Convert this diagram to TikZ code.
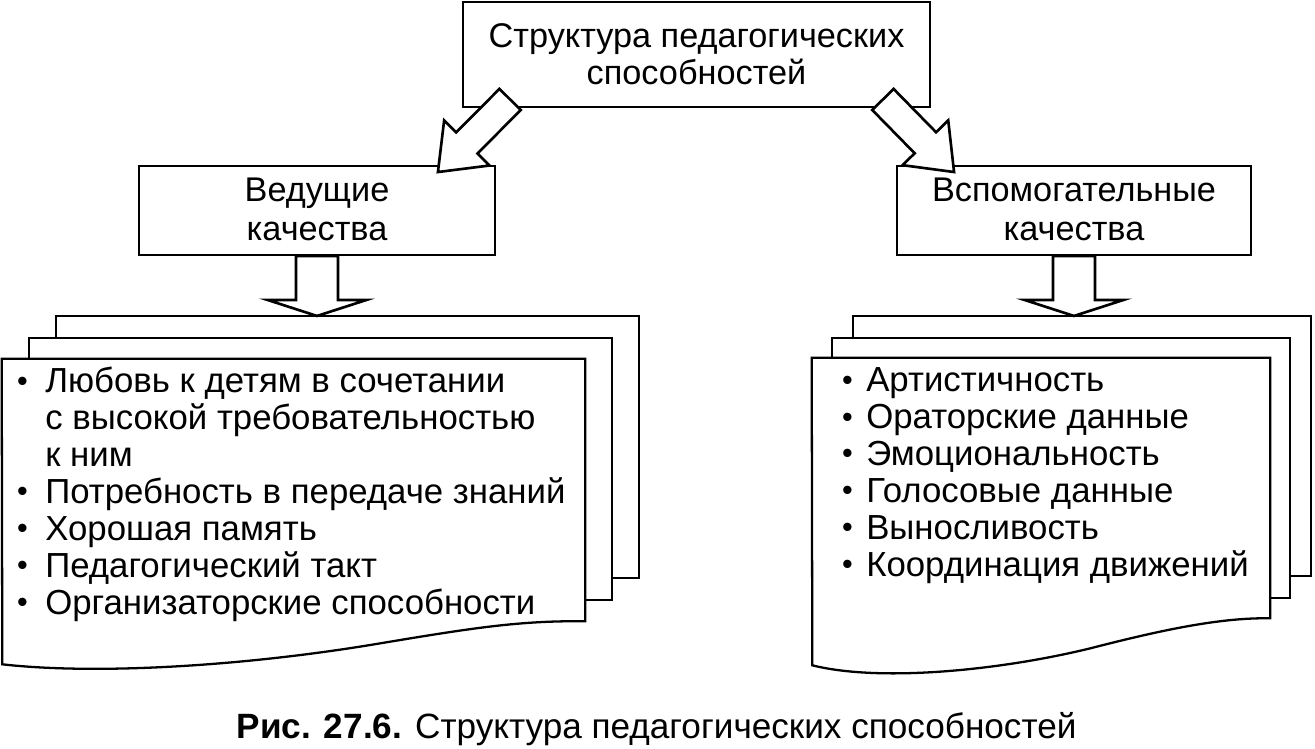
\documentclass[tikz,border=0pt]{standalone}
\usepackage{fontspec}
\setmainfont{Liberation Sans}
\usetikzlibrary{calc}
\usetikzlibrary{positioning}

\newcommand{\listdot}{\raisebox{0.05em}{\scalebox{0.88}{•}}}

\begin{document}
\begin{tikzpicture} [
        x = 0.02cm,
        y = -0.02cm,
        every node/.style = {
          align = center,
          font = \fontsize{19.5}{21}\selectfont,
        },
        box/.style = {
          draw,
          line width = 1.1pt,
          inner sep = 0pt,
        },
        page/.style = {
          draw,
          fill = white,
          line width = 1.3pt,
        },
        listtext/.style = {
          align = left,
          inner sep = 0pt,
          font = \fontsize{19.8}{21}\selectfont,
        },
        hollow/.style n args = {3}{%
          draw,
          fill = white,
          line width = 1.5pt,
          line join = miter,
          to path = {
            ($(\tikztostart)!#1!90:(\tikztotarget)$)
            -- ($(\tikztotarget)!#3!(\tikztostart)!#1!-90:(\tikztostart)$)
            -- ($(\tikztotarget)!#3!(\tikztostart)!#2!-90:(\tikztostart)$)
            -- (\tikztotarget)
            -- ($(\tikztotarget)!#3!(\tikztostart)!#2!90:(\tikztostart)$)
            -- ($(\tikztotarget)!#3!(\tikztostart)!#1!90:(\tikztostart)$)
            -- ($(\tikztostart)!#1!-90:(\tikztotarget)$)
            -- cycle
          },
        },
      ]
    \useasboundingbox (0,0) rectangle (1315,749);

    % boxes
    \node [box, minimum width = 9.34cm, minimum height = 2.1cm] (struct) at (696.5,54.5) {\raisebox{-0.08cm}[\height][\depth]{\begin{tabular}{@{}c@{}}Структура педагогических\\способностей\end{tabular}}};
    \node [box, minimum width = 7.12cm, minimum height = 1.78cm, font = \fontsize{19.5}{22}\selectfont] (lead) at (317,210.5) {\raisebox{-0.06cm}[\height][\depth]{\begin{tabular}{@{}c@{}}Ведущие\\качества\end{tabular}}};
    \node [box, minimum width = 7.08cm, minimum height = 1.78cm, font = \fontsize{19.5}{22}\selectfont] (aux) at (1074,210.5) {\raisebox{-0.06cm}[\height][\depth]{\begin{tabular}{@{}c@{}}Вспомогательные\\качества\end{tabular}}};

    % page stacks
    \node [inner sep = 0pt, minimum width = 11.66cm, minimum height = 5.24cm] (docL) at (293.5,490) {};
    \node [inner sep = 0pt, minimum width = 9.16cm, minimum height = 5.2cm] (docR) at (1041,488) {};

    \foreach \dx/\dy in {54/-43, 27/-21}
      \draw [page] ($(docL.north west)+(\dx,\dy)$) rectangle ($(docL.south east)+(\dx,\dy)$);
    \foreach \dx/\dy in {41/-42, 20/-20}
      \draw [page] ($(docR.north west)+(\dx,\dy)$) rectangle ($(docR.south east)+(\dx,\dy)$);

    \draw [page] (docL.north west) -- (docL.north east) -- (docL.south east)
      .. controls +(-65,-1) and +(90,-15) .. ++(-205,22)
      .. controls +(-130,22) and +(98,11) .. ++(-378,21) -- cycle;
    \draw [page] (docR.north west) -- (docR.north east) -- (docR.south east)
      .. controls +(-50,-1) and +(70,-18) .. ++(-180,30)
      .. controls +(-90,22) and +(68,17) .. ++(-278,17) -- cycle;

    % lists
    \node [listtext, anchor = north west] (itemsL) at ($(docL.north west)+(15,8)$) {%
      \begin{tabular}{@{}l@{\hspace{0.35cm}}l@{}}
        \listdot & Любовь к детям в сочетании\\
                 & с высокой требовательностью\\
                 & к ним\\
        \listdot & Потребность в передаче знаний\\
        \listdot & Хорошая память\\
        \listdot & Педагогический такт\\
        \listdot & Организаторские способности
      \end{tabular}};
    \node [listtext, anchor = north west] (itemsR) at ($(docR.north west)+(30,8)$) {%
      \begin{tabular}{@{}l@{\hspace{0.27cm}}l@{}}
        \listdot & Артистичность\\
        \listdot & Ораторские данные\\
        \listdot & Эмоциональность\\
        \listdot & Голосовые данные\\
        \listdot & Выносливость\\
        \listdot & Координация движений
      \end{tabular}};

    % caption
    \node (caption) at (656.5,729) {\fontsize{20}{24}\selectfont\textbf{Рис. 27.6.} Структура педагогических способностей};

    % hollow arrows
    \coordinate (fromL) at ($(struct.south west)+(48,-8.5)$);
    \coordinate (toL) at ($(lead.north east)+(-58,7)$);
    \coordinate (fromR) at ($(struct.south east)+(-48,-8.5)$);
    \coordinate (toR) at ($(aux.north west)+(58,7)$);
    \coordinate (downL) at ($(lead.south)+(0,60)$);
    \coordinate (downR) at ($(aux.south)+(0,60)$);

    \draw [hollow={0.3cm}{0.64cm}{0.82cm}] (fromL) to (toL);
    \draw [hollow={0.3cm}{0.64cm}{0.82cm}] (fromR) to (toR);
    \draw [hollow={0.42cm}{0.99cm}{0.32cm}] (lead.south) to (downL);
    \draw [hollow={0.42cm}{0.99cm}{0.32cm}] (aux.south) to (downR);
  \end{tikzpicture}
\end{document}
